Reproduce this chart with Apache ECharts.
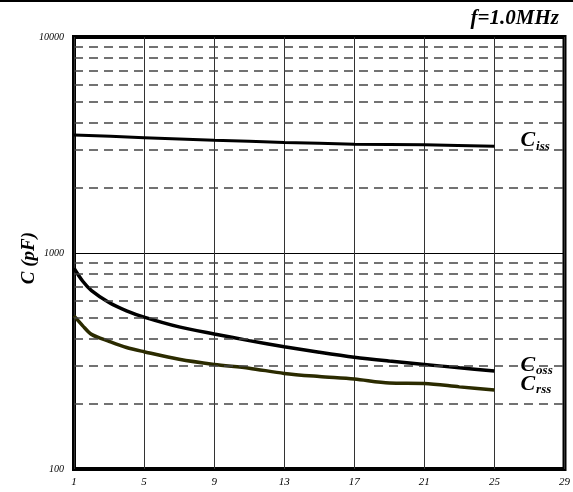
<!DOCTYPE html>
<html><head><meta charset="utf-8">
<script src="https://cdn.jsdelivr.net/npm/echarts@6/dist/echarts.min.js"></script>
<style>html,body{margin:0;padding:0;background:#fff}#c{width:573px;height:492px}</style>
</head><body><div id="c"></div>
<script>
var vdsCiss = [1, 5, 9, 13, 17, 21, 25];
var ciss = [3520, 3420, 3330, 3250, 3190, 3170, 3120];
var vds = [1, 1.5, 2, 3, 4, 5, 7, 9, 11, 13, 15, 17, 19, 21, 23, 25];
var coss = [850, 740, 670, 590, 540, 505, 455, 422, 393, 368, 347, 329, 316, 305, 294, 284];
var crss = [511, 460, 420, 390, 365, 349, 322, 305, 293, 277, 268, 261, 250, 249, 240, 232];
var minorGrid = [200, 300, 400, 500, 600, 700, 800, 900, 2000, 3000, 4000, 5000, 6000, 7000, 8000, 9000];
var yTicks = [100, 1000, 10000];
var xTicks = [1, 5, 9, 13, 17, 21, 25, 29];
var yTitle = 'C (pF)';

var serif = '"Liberation Serif","DejaVu Serif",serif';
function pairs(xs, ys){ return xs.map(function(x,i){return [x, ys[i]];}); }
function lbl(sub){
  return {show:true, formatter:'{c|C}{s|'+sub+'}', offset:[18,-6],
    rich:{c:{fontFamily:serif,fontStyle:'italic',fontWeight:'bold',fontSize:22,color:'#000'},
          s:{fontFamily:serif,fontStyle:'italic',fontWeight:'bold',fontSize:13,color:'#000',padding:[12,0,0,1]}}};
}
var chart = echarts.init(document.getElementById('c'));
chart.setOption({
  animation:false,
  backgroundColor:'#fff',
  grid:{left:74,right:7,top:37,bottom:23,show:true,borderColor:'#000',borderWidth:4,backgroundColor:'transparent'},
  title:{text:'f=1.0MHz',right:9,top:3,textStyle:{fontFamily:serif,fontStyle:'italic',fontWeight:'bold',fontSize:21,color:'#000'}},
  graphic:[
    {type:'line',shape:{x1:0,y1:1,x2:573,y2:1},style:{stroke:'#000',lineWidth:2}},
    {type:'text',x:29,y:258,rotation:Math.PI/2,
      style:{text:yTitle,fontFamily:serif,fontStyle:'italic',fontWeight:'bold',fontSize:19,fill:'#000',
        textAlign:'center',textVerticalAlign:'middle'}}
  ],
  xAxis:{type:'value',min:1,max:29,interval:4,
    axisLine:{show:false},axisTick:{show:false},
    axisLabel:{fontFamily:serif,fontStyle:'italic',fontSize:11,color:'#000',margin:8,
      formatter:function(v){return xTicks.indexOf(v)>=0?String(v):'';}},
    splitLine:{show:true,lineStyle:{color:'#333',width:1,type:'solid'}}},
  yAxis:{type:'log',logBase:10,min:100,max:10000,
    axisLine:{show:false},axisTick:{show:false},
    axisLabel:{fontFamily:serif,fontStyle:'italic',fontSize:10,color:'#000',margin:10,
      formatter:function(v){return yTicks.indexOf(Math.round(v))>=0?String(Math.round(v)):'';}},
    splitLine:{show:true,lineStyle:{color:'#000',width:1}}},
  series:[
    {name:'grid',type:'line',data:[],silent:true,
      markLine:{symbol:['none','none'],silent:true,label:{show:false},
        lineStyle:{color:'#444',type:[9,6],width:1.5},
        data:minorGrid.map(function(v){return {yAxis:v};})}},
    {name:'Ciss',type:'line',data:pairs(vdsCiss,ciss),showSymbol:false,smooth:0.2,
      lineStyle:{color:'#000',width:3},endLabel:lbl('iss')},
    {name:'Coss',type:'line',data:pairs(vds,coss),showSymbol:false,smooth:0.3,
      lineStyle:{color:'#000',width:3.5},endLabel:lbl('oss')},
    {name:'Crss',type:'line',data:pairs(vds,crss),showSymbol:false,smooth:0.3,
      lineStyle:{color:'#2b2b00',width:3.5},endLabel:lbl('rss')}
  ]
});
</script></body></html>
